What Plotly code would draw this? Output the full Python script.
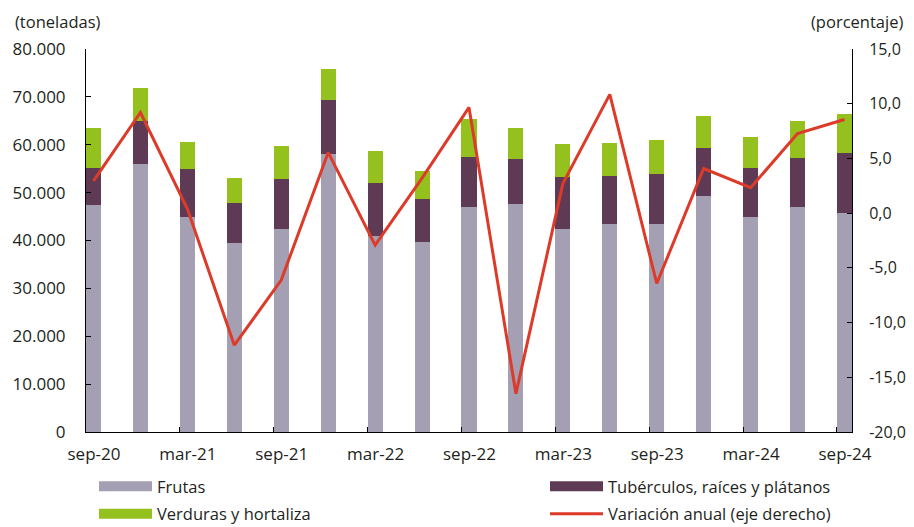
import plotly.graph_objects as go

periods = ['sep-20', 'dic-20', 'mar-21', 'jun-21', 'sep-21', 'dic-21', 'mar-22', 'jun-22',
           'sep-22', 'dic-22', 'mar-23', 'jun-23', 'sep-23', 'dic-23', 'mar-24', 'jun-24', 'sep-24']
frutas = [47360, 56000, 44980, 39420, 42350, 58140, 41010, 39620, 47070,
          47630, 42340, 43450, 43450, 49240, 44910, 47070, 45690]
tuberculos = [7720, 9030, 9900, 8480, 10440, 11220, 10940, 9050, 10440,
              9400, 10860, 10100, 10380, 10150, 10170, 10170, 12660]
verduras = [8360, 6770, 5640, 5100, 6960, 6410, 6690, 5920, 7880,
            6410, 7030, 6890, 7170, 6690, 6550, 7730, 8080]
variacion = [2.95, 9.2, 0.4, -12.07, -6.12, 5.55, -2.93, 3.2, 9.66,
             -16.5, 2.7, 10.85, -6.43, 4.08, 2.32, 7.28, 8.56]

y_tickvals = [0, 10000, 20000, 30000, 40000, 50000, 60000, 70000, 80000]
y_ticktext = ['0', '10.000', '20.000', '30.000', '40.000', '50.000', '60.000', '70.000', '80.000']
y2_tickvals = [-20, -15, -10, -5, 0, 5, 10, 15]
y2_ticktext = ['-20,0', '-15,0', '-10,0', '-5,0', '0,0', '5,0', '10,0', '15,0']

FONT = 'Open Sans'
TXT = '#231F20'
BAR_W = 0.32
xs = list(range(len(periods)))

COL_FRUTAS = '#A59FB3'
COL_TUB = '#5F3A55'
COL_VERD = '#95C11F'
COL_VAR = '#DC3B2A'

# the page body adds an 8px margin, so the figure is drawn 8px smaller
# and everything is laid out 8px up/left of where it should appear
W, H = 906, 519
ML, MT = 78, 41
PW, PH = 766, 383
MR, MB = W - ML - PW, H - MT - PH

fig = go.Figure()
fig.add_trace(go.Bar(x=xs, y=frutas, name='Frutas', marker_color=COL_FRUTAS,
                     width=BAR_W, marker_line_width=0, showlegend=False))
fig.add_trace(go.Bar(x=xs, y=tuberculos, name='Tubérculos, raíces y plátanos',
                     marker_color=COL_TUB, width=BAR_W, marker_line_width=0, showlegend=False))
fig.add_trace(go.Bar(x=xs, y=verduras, name='Verduras y hortaliza', marker_color=COL_VERD,
                     width=BAR_W, marker_line_width=0, showlegend=False))
fig.add_trace(go.Scatter(x=xs, y=variacion, name='Variación anual (eje derecho)', mode='lines',
                         line=dict(color=COL_VAR, width=3), yaxis='y2', showlegend=False))

# legend entries: wide flat swatches like the original, split in two columns
legend_items = [
    ('Frutas', COL_FRUTAS, 10, 'legend'),
    ('Verduras y hortaliza', COL_VERD, 10, 'legend'),
    ('Tubérculos, raíces y plátanos', COL_TUB, 10, 'legend2'),
    ('Variación anual (eje derecho)', COL_VAR, 3, 'legend2'),
]
for name, color, lw, leg in legend_items:
    fig.add_trace(go.Scatter(x=[None], y=[None], mode='lines', name=name,
                             line=dict(color=color, width=lw), legend=leg,
                             legendgroup=name))

label_idx = list(range(0, len(periods), 2))

leg_common = dict(
    orientation='v', xref='paper', yref='container', xanchor='left', yanchor='top',
    y=(H - 461) / H, itemwidth=53, font=dict(size=16.5, color=TXT),
    tracegroupgap=3, bgcolor='rgba(0,0,0,0)',
)

fig.update_layout(
    width=W, height=H,
    barmode='stack',
    plot_bgcolor='white', paper_bgcolor='white',
    font=dict(family=FONT, size=15, color=TXT),
    margin=dict(l=ML, r=MR, t=MT, b=MB),
    xaxis=dict(
        range=[-BAR_W / 2, len(periods) - 1 + BAR_W / 2],
        tickvals=[i - BAR_W / 2 for i in label_idx],
        ticktext=[periods[i] for i in label_idx],
        ticklabelshift=8, ticklabelstandoff=7,
        ticks='inside', ticklen=5, tickcolor='black',
        showline=True, linecolor='black', linewidth=1,
        showgrid=False, zeroline=False, automargin=False,
        tickfont=dict(size=17), tickangle=0,
    ),
    yaxis=dict(
        range=[0, 80000],
        tickvals=y_tickvals, ticktext=y_ticktext,
        ticks='inside', ticklen=5, tickcolor='black',
        showline=True, linecolor='black', linewidth=1,
        showgrid=False, zeroline=False, automargin=False,
        ticklabelstandoff=16,
        tickfont=dict(size=17),
    ),
    yaxis2=dict(
        range=[-20, 15], overlaying='y', side='right',
        tickvals=y2_tickvals, ticktext=y2_ticktext,
        ticks='inside', ticklen=5, tickcolor='black',
        showline=True, linecolor='black', linewidth=1,
        showgrid=False, zeroline=False, automargin=False,
        ticklabelstandoff=13,
        tickfont=dict(size=16),
    ),
    legend=dict(x=(94 - 86) / PW, **leg_common),
    legend2=dict(x=(545 - 86) / PW, **leg_common),
    annotations=[
        dict(text='(toneladas)', x=(5 - ML) / PW, y=1 + MT / PH,
             xref='paper', yref='paper', xanchor='left', yanchor='top',
             showarrow=False, font=dict(size=16.5)),
        dict(text='(porcentaje)', x=(897 - ML) / PW, y=1 + MT / PH,
             xref='paper', yref='paper', xanchor='right', yanchor='top',
             showarrow=False, font=dict(size=16.5)),
    ],
)

fig.write_html('out.html')
